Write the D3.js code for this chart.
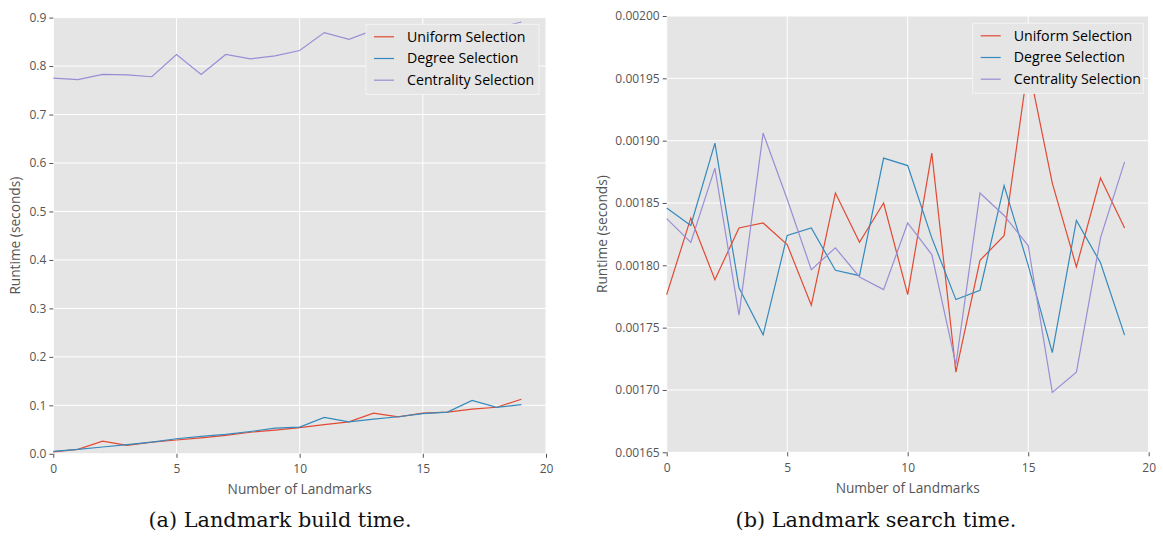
<!DOCTYPE html>
<html>
<head>
<meta charset="utf-8">
<script src="https://cdn.jsdelivr.net/npm/d3@7"></script>
<style>
    body { margin: 0; background: #fff; }
    .tick text { fill: #555; }
</style>
</head>
<body>
<div id="chart"></div>
<script>
const landmarks = [0, 1, 2, 3, 4, 5, 6, 7, 8, 9, 10, 11, 12, 13, 14, 15, 16, 17, 18, 19];
const seriesNames = ["Uniform Selection", "Degree Selection", "Centrality Selection"];
const colors = ["#E24A33", "#348ABD", "#988ED5"];

const buildUniform = [0.004, 0.009, 0.026, 0.0175, 0.024, 0.0285, 0.033, 0.038, 0.0445, 0.0487,
    0.054, 0.060, 0.066, 0.084, 0.076, 0.084, 0.086, 0.092, 0.096, 0.1125];
const buildDegree = [0.005, 0.009, 0.014, 0.019, 0.024, 0.031, 0.036, 0.040, 0.046, 0.053,
    0.055, 0.075, 0.066, 0.0715, 0.0765, 0.0827, 0.086, 0.110, 0.096, 0.1015];
const buildCentrality = [0.775, 0.772, 0.783, 0.782, 0.778, 0.824, 0.7825, 0.824, 0.815, 0.821,
    0.832, 0.869, 0.855, 0.874, 0.868, 0.877, 0.872, 0.880, 0.878, 0.891];

const searchUniform = [0.0017765, 0.001838, 0.0017885, 0.00183, 0.001834, 0.0018166, 0.001768, 0.001858, 0.0018184, 0.00185,
    0.0017765, 0.00189, 0.0017143, 0.001804, 0.0018238, 0.001961, 0.001866, 0.0017987, 0.00187, 0.00183];
const searchDegree = [0.001846, 0.001832, 0.001898, 0.001782, 0.0017442, 0.001824, 0.00183, 0.001796, 0.0017917, 0.001886,
    0.00188, 0.001822, 0.0017725, 0.00178, 0.001864, 0.0018, 0.00173, 0.001836, 0.001802, 0.001744];
const searchCentrality = [0.0018374, 0.0018184, 0.001878, 0.00176, 0.0019061, 0.001853, 0.0017965, 0.001814, 0.0017907, 0.0017805,
    0.001834, 0.0018086, 0.0017204, 0.001858, 0.00184, 0.0018158, 0.001698, 0.0017143, 0.001822, 0.001883];

const xTicks = [0, 5, 10, 15, 20];
const buildTicks = [0.0, 0.1, 0.2, 0.3, 0.4, 0.5, 0.6, 0.7, 0.8, 0.9];
const searchTicks = [0.00165, 0.00170, 0.00175, 0.00180, 0.00185, 0.00190, 0.00195, 0.00200];

const width = 1163;
const height = 536;
const font = "'Open Sans', 'DejaVu Sans', sans-serif";

const svg = d3.select("#chart").append("svg")
    .attr("width", width)
    .attr("height", height)
    .style("font-family", font);

function renderPanel(opts) {
    const x = d3.scaleLinear().domain([0, 20]).range([opts.left, opts.right]);
    const y = d3.scaleLinear().domain(opts.yDomain).range([opts.bottom, opts.top]);

    const g = svg.append("g");

    g.append("rect")
        .attr("x", opts.left)
        .attr("y", opts.top)
        .attr("width", opts.right - opts.left)
        .attr("height", opts.bottom - opts.top)
        .attr("fill", "#E5E5E5");

    // grid
    g.append("g")
        .selectAll("line")
        .data(opts.yTicks)
        .join("line")
        .attr("x1", opts.left).attr("x2", opts.right)
        .attr("y1", d => y(d)).attr("y2", d => y(d))
        .attr("stroke", "#fff").attr("stroke-width", 1);
    g.append("g")
        .selectAll("line")
        .data(xTicks)
        .join("line")
        .attr("x1", d => x(d)).attr("x2", d => x(d))
        .attr("y1", opts.top).attr("y2", opts.bottom)
        .attr("stroke", "#fff").attr("stroke-width", 1);

    // axes
    g.append("g")
        .attr("transform", `translate(${opts.left},0)`)
        .call(d3.axisLeft(y).tickValues(opts.yTicks).tickFormat(d3.format(opts.fmt)).tickSize(4).tickPadding(3))
        .call(a => a.select(".domain").remove())
        .call(a => a.selectAll(".tick line").attr("stroke", "#555"))
        .call(a => a.selectAll(".tick text").attr("font-size", "12px").attr("font-family", font));

    g.append("g")
        .attr("transform", `translate(0,${opts.bottom})`)
        .call(d3.axisBottom(x).tickValues(xTicks).tickFormat(d3.format("d")).tickSize(4).tickPadding(7))
        .call(a => a.select(".domain").remove())
        .call(a => a.selectAll(".tick line").attr("stroke", "#555"))
        .call(a => a.selectAll(".tick text").attr("font-size", "12px").attr("font-family", font));

    g.append("text")
        .attr("x", (opts.left + opts.right) / 2)
        .attr("y", opts.bottom + 40.5)
        .attr("text-anchor", "middle")
        .attr("font-size", "13.7px")
        .attr("fill", "#555")
        .text("Number of Landmarks");

    g.append("text")
        .attr("transform", `translate(${opts.yLabelX},${(opts.top + opts.bottom) / 2}) rotate(-90)`)
        .attr("text-anchor", "middle")
        .attr("font-size", "13.7px")
        .attr("fill", "#555")
        .text("Runtime (seconds)");

    const line = d3.line()
        .x((d, i) => x(landmarks[i]))
        .y(d => y(d));

    opts.series.forEach((s, k) => {
        g.append("path")
            .datum(s)
            .attr("d", line)
            .attr("fill", "none")
            .attr("stroke", colors[k])
            .attr("stroke-width", 1.2);
    });

    // legend
    const lg = g.append("g").attr("transform", `translate(${opts.legendX},${opts.legendY})`);
    lg.append("rect")
        .attr("width", opts.legendW)
        .attr("height", 70)
        .attr("fill", "#E5E5E5")
        .attr("stroke", "#f4f4f4")
        .attr("stroke-width", 1);
    seriesNames.forEach((name, k) => {
        const yy = 12.5 + k * 21.7;
        lg.append("line")
            .attr("x1", 8).attr("x2", 28)
            .attr("y1", yy).attr("y2", yy)
            .attr("stroke", colors[k])
            .attr("stroke-width", 1.2);
        lg.append("text")
            .attr("x", 41)
            .attr("y", yy)
            .attr("dy", "0.35em")
            .attr("font-size", "14.2px")
            .attr("fill", "#000")
            .text(name);
    });

    svg.append("text")
        .attr("x", opts.captionX)
        .attr("y", 527)
        .attr("text-anchor", "middle")
        .attr("font-family", "'DejaVu Serif', serif")
        .attr("font-size", "20.8px")
        .attr("fill", "#111")
        .text(opts.caption);
}

renderPanel({
    left: 53.3, right: 546, top: 17.6, bottom: 453.8,
    yDomain: [0, 0.9], yTicks: buildTicks, fmt: ".1f",
    series: [buildUniform, buildDegree, buildCentrality],
    yLabelX: 20,
    legendX: 366, legendY: 24.3, legendW: 173,
    captionX: 280, caption: "(a) Landmark build time."
});

renderPanel({
    left: 666.7, right: 1148.7, top: 16, bottom: 452.3,
    yDomain: [0.00165, 0.002], yTicks: searchTicks, fmt: ".5f",
    series: [searchUniform, searchDegree, searchCentrality],
    yLabelX: 607,
    legendX: 972.7, legendY: 23.3, legendW: 170.6,
    captionX: 876, caption: "(b) Landmark search time."
});
</script>
</body>
</html>
